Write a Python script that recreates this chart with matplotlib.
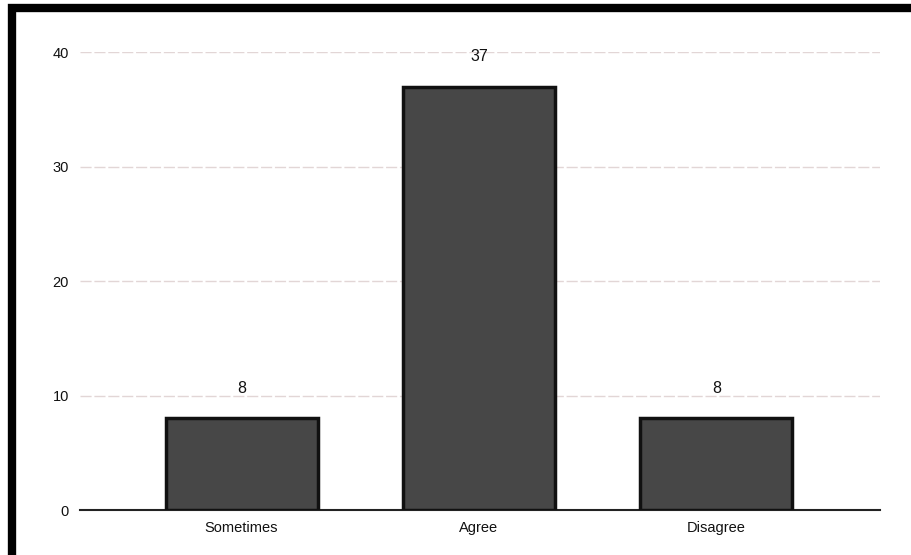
import matplotlib
matplotlib.use("Agg")
import matplotlib.pyplot as plt
from matplotlib.patches import Rectangle

categories = ["Sometimes", "Agree", "Disagree"]
counts = [8, 37, 8]
y_ticks = [0, 10, 20, 30, 40]

plt.rcParams["font.family"] = ["Liberation Sans", "DejaVu Sans"]

fig = plt.figure(figsize=(9.11, 5.55), dpi=100)
ax = fig.add_axes([0.088, 0.081, 0.878, 0.825])

x = range(len(categories))
bars = ax.bar(x, counts, width=0.64, color="#474747", edgecolor="#111111",
              linewidth=2.5, zorder=3)

for b, v in zip(bars, counts):
    ax.annotate(str(v), (b.get_x() + b.get_width() / 2, v),
                xytext=(0, 16), textcoords="offset points",
                ha="center", va="bottom", fontsize=11.5, color="#111111")

ax.set_xlim(-0.68, 2.69)
ax.set_ylim(0, 40)
ax.set_yticks(y_ticks)
ax.set_xticks(list(x))
ax.set_xticklabels(categories, fontsize=10.5, color="#111111")
ax.tick_params(axis="y", labelsize=10.5, labelcolor="#111111", length=0, pad=8)
ax.tick_params(axis="x", length=0, pad=8)

ax.yaxis.grid(True, color="#e2d6d6", linestyle=(0, (8, 2)), linewidth=1, zorder=0)
for side in ["top", "right", "left"]:
    ax.spines[side].set_visible(False)
ax.spines["bottom"].set_color("#222222")
ax.spines["bottom"].set_linewidth(1.5)

# thick border of the scanned page box
fig.patches.append(Rectangle((0.013, -0.05), 1.2, 1.035, transform=fig.transFigure,
                             fill=False, edgecolor="black", linewidth=6))

fig.savefig("out.png", dpi=100)
